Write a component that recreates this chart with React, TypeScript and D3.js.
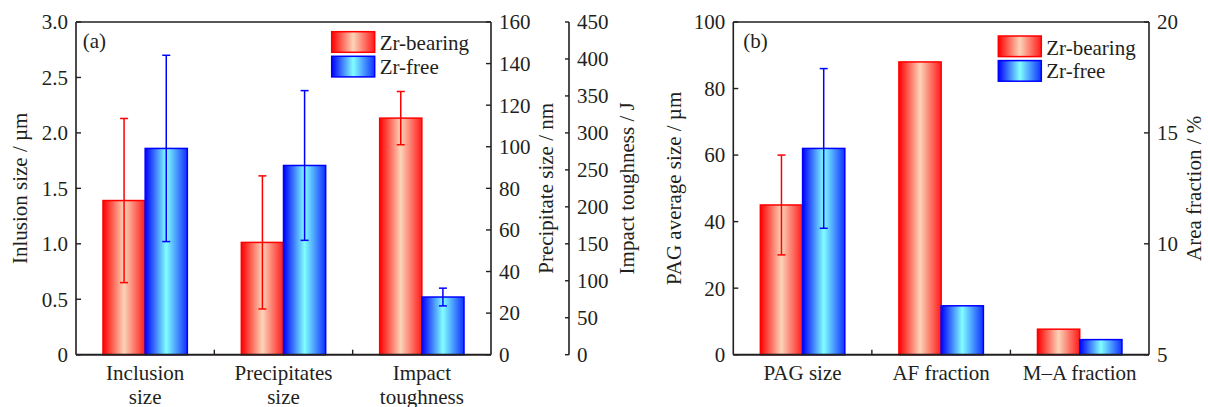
import React from 'react';
import * as d3 from 'd3';

// panel (a)
const categoriesA = ['Inclusion size', 'Precipitates size', 'Impact toughness'];
const zrBearingA = [1.39, 54, 320];
const zrFreeA = [1.86, 91, 78];
const zrBearingErrA: [number, number][] = [[0.65, 2.13], [22, 86], [284, 356]];
const zrFreeErrA: [number, number][] = [[1.02, 2.7], [55, 127], [66, 90]];
const inclTicks = [0, 0.5, 1.0, 1.5, 2.0, 2.5, 3.0];
const precTicks = [0, 20, 40, 60, 80, 100, 120, 140, 160];
const impTicks = [0, 50, 100, 150, 200, 250, 300, 350, 400, 450];

// panel (b)
const categoriesB = ['PAG size', 'AF fraction', 'M\u2013A fraction'];
const zrBearingB = [45, 88, 6.15];
const zrFreeB = [62, 14.7, 5.68];
const zrBearingErrB: ([number, number] | null)[] = [[30, 60], null, null];
const zrFreeErrB: ([number, number] | null)[] = [[38, 86], null, null];
const pagTicks = [0, 20, 40, 60, 80, 100];
const areaTicks = [5, 10, 15, 20];

const series = ['Zr-bearing', 'Zr-free'];

const W = 1208;
const H = 407;
const TOP = 22;
const BOTTOM = 354.7;
const FONT = '"Liberation Serif", "Times New Roman", serif';
const INK = '#231f20';
const FS = 21;

const yIncl = d3.scaleLinear().domain([0, 3]).range([BOTTOM, TOP]);
const yPrec = d3.scaleLinear().domain([0, 160]).range([BOTTOM, TOP]);
const yImp = d3.scaleLinear().domain([0, 450]).range([BOTTOM, TOP]);
const yPag = d3.scaleLinear().domain([0, 100]).range([BOTTOM, TOP]);
const yArea = d3.scaleLinear().domain([5, 20]).range([BOTTOM, TOP]);

const fmtA = (d: number) => (d === 0 ? '0' : d3.format('.1f')(d));
const fmtInt = (d: number) => String(d);

type Scale = d3.ScaleLinear<number, number>;

const YAxis: React.FC<{ x: number; scale: Scale; ticks: number[]; fmt: (d: number) => string; side: 'left' | 'right'; tick?: number }> = ({ x, scale, ticks, fmt, side, tick = 5 }) => (
  <g>
    <line x1={x} x2={x} y1={TOP} y2={BOTTOM} stroke={INK} strokeWidth={1.6} />
    {ticks.map((t) => (
      <g key={t}>
        <line x1={x} x2={side === 'left' ? x + tick : x - tick} y1={scale(t)} y2={scale(t)} stroke={INK} strokeWidth={1.4} />
        <text
          x={side === 'left' ? x - 8 : x + 8}
          y={scale(t)}
          dy="0.35em"
          textAnchor={side === 'left' ? 'end' : 'start'}
          fontSize={FS}
          fontFamily={FONT}
          fill={INK}
        >
          {fmt(t)}
        </text>
      </g>
    ))}
  </g>
);

const Panel: React.FC<{
  x0: number;
  x1: number;
  categories: string[];
  bearing: number[];
  free: number[];
  bearingErr: ([number, number] | null)[];
  freeErr: ([number, number] | null)[];
  scales: Scale[];
  twoLine: boolean;
}> = ({ x0, x1, categories, bearing, free, bearingErr, freeErr, scales, twoLine }) => {
  const xBand = d3.scaleBand<string>().domain(categories).range([x0, x1]).padding(0);
  const xSub = d3.scaleBand<string>().domain(series).range([0, xBand.bandwidth()]).paddingInner(0).paddingOuter(0.64);
  const bw = xSub.bandwidth();
  const sets = [
    { vals: bearing, errs: bearingErr, fill: 'url(#gradRed)', stroke: '#ff0000' },
    { vals: free, errs: freeErr, fill: 'url(#gradBlue)', stroke: '#0000ff' },
  ];
  return (
    <g>
      {categories.map((c, i) => {
        const y = scales[i];
        const base = y.range()[0];
        return (
          <g key={c}>
            {sets.map((s, k) => {
              const bx = (xBand(c) as number) + (xSub(series[k]) as number);
              const top = y(s.vals[i]);
              const err = s.errs[i];
              const cx = bx + bw / 2;
              return (
                <g key={k}>
                  <rect x={bx} y={top} width={bw} height={base - top} fill={s.fill} stroke={s.stroke} strokeWidth={1.5} />
                  {err && (
                    <g stroke={s.stroke} strokeWidth={1.5}>
                      <line x1={cx} x2={cx} y1={y(err[0])} y2={y(err[1])} />
                      <line x1={cx - 4} x2={cx + 4} y1={y(err[0])} y2={y(err[0])} />
                      <line x1={cx - 4} x2={cx + 4} y1={y(err[1])} y2={y(err[1])} />
                    </g>
                  )}
                </g>
              );
            })}
            {(() => {
              const cx = (xBand(c) as number) + xBand.bandwidth() / 2;
              const parts = twoLine ? [c.slice(0, c.indexOf(' ')), c.slice(c.indexOf(' ') + 1)] : [c];
              return (
                <text x={cx} y={380} textAnchor="middle" fontSize={FS} fontFamily={FONT} fill={INK}>
                  {parts.map((p, j) => (
                    <tspan key={j} x={cx} dy={j === 0 ? 0 : 24}>
                      {p}
                    </tspan>
                  ))}
                </text>
              );
            })()}
          </g>
        );
      })}
      {categories.slice(1).map((c) => (
        <line key={c} x1={xBand(c)} x2={xBand(c)} y1={BOTTOM} y2={BOTTOM - 5} stroke={INK} strokeWidth={1.4} />
      ))}
      <line x1={x0} x2={x1} y1={TOP} y2={TOP} stroke={INK} strokeWidth={1.6} />
      <line x1={x0} x2={x1} y1={BOTTOM} y2={BOTTOM} stroke={INK} strokeWidth={2} />
    </g>
  );
};

const Legend: React.FC<{ x: number; y: number }> = ({ x, y }) => (
  <g>
    {series.map((s, i) => (
      <g key={s}>
        <rect
          x={x}
          y={y + i * 24.6}
          width={43}
          height={20.6}
          fill={i === 0 ? 'url(#gradRed)' : 'url(#gradBlue)'}
          stroke={i === 0 ? '#ff0000' : '#0000ff'}
          strokeWidth={1.5}
        />
        <text x={x + 48} y={y + 18.5 + i * 23.4} fontSize={FS} fontFamily={FONT} fill={INK}>
          {s}
        </text>
      </g>
    ))}
  </g>
);

const AxisTitle: React.FC<{ x: number; text: string }> = ({ x, text }) => (
  <text
    transform={`translate(${x},${(TOP + BOTTOM) / 2}) rotate(-90)`}
    textAnchor="middle"
    fontSize={FS}
    fontFamily={FONT}
    fill={INK}
  >
    {text}
  </text>
);

export default function App() {
  return (
    <svg width={W} height={H} style={{ position: 'absolute', left: 0, top: 0, background: '#fff' }}>
      <defs>
        <linearGradient id="gradRed" x1="0" x2="1" y1="0" y2="0">
          <stop offset="0" stopColor="#ff0000" />
          <stop offset="0.5" stopColor="#fbd4b8" />
          <stop offset="1" stopColor="#ff1a1a" />
        </linearGradient>
        <linearGradient id="gradBlue" x1="0" x2="1" y1="0" y2="0">
          <stop offset="0" stopColor="#0000ff" />
          <stop offset="0.5" stopColor="#80ffff" />
          <stop offset="1" stopColor="#1030ff" />
        </linearGradient>
      </defs>
      <rect x={0} y={0} width={W} height={H} fill="#fff" />

      {/* (a) */}
      <Panel
        x0={76}
        x1={491}
        categories={categoriesA}
        bearing={zrBearingA}
        free={zrFreeA}
        bearingErr={zrBearingErrA}
        freeErr={zrFreeErrA}
        scales={[yIncl, yPrec, yImp]}
        twoLine
      />
      <YAxis x={76} scale={yIncl} ticks={inclTicks} fmt={fmtA} side="left" />
      <YAxis x={491} scale={yPrec} ticks={precTicks} fmt={fmtInt} side="right" />
      <YAxis x={569} scale={yImp} ticks={impTicks} fmt={fmtInt} side="right" tick={4} />
      <AxisTitle x={27} text="Inlusion size / µm" />
      <AxisTitle x={553} text="Precipitate size / nm" />
      <AxisTitle x={634} text="Impact toughness / J" />
      <text x={82.7} y={48} fontSize={FS} fontFamily={FONT} fill={INK}>(a)</text>
      <Legend x={331.7} y={31.7} />

      {/* (b) */}
      <Panel
        x0={733.3}
        x1={1149}
        categories={categoriesB}
        bearing={zrBearingB}
        free={zrFreeB}
        bearingErr={zrBearingErrB}
        freeErr={zrFreeErrB}
        scales={[yPag, yPag, yArea]}
        twoLine={false}
      />
      <YAxis x={733.3} scale={yPag} ticks={pagTicks} fmt={fmtInt} side="left" />
      <YAxis x={1149} scale={yArea} ticks={areaTicks} fmt={fmtInt} side="right" />
      <AxisTitle x={681} text="PAG average size / µm" />
      <AxisTitle x={1201} text="Area fraction / %" />
      <text x={743.3} y={48} fontSize={FS} fontFamily={FONT} fill={INK}>(b)</text>
      <Legend x={998.3} y={36} />
    </svg>
  );
}
